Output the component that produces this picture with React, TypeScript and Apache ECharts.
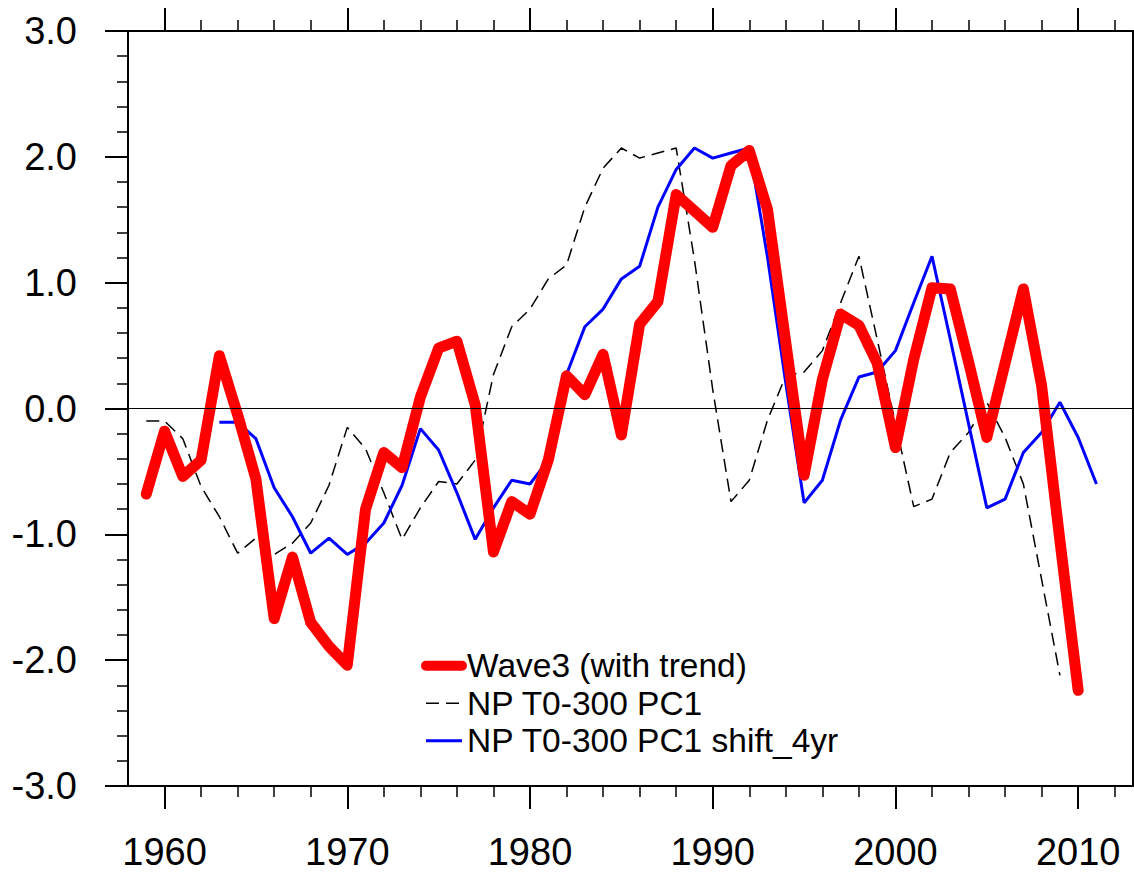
import React, { useEffect, useRef } from "react";
import * as echarts from "echarts";

const wave3Years = [
  1959, 1960, 1961, 1962, 1963, 1964, 1965, 1966, 1967, 1968, 1969, 1970, 1971, 1972, 1973, 1974, 1975,
  1976, 1977, 1978, 1979, 1980, 1981, 1982, 1983, 1984, 1985, 1986, 1987, 1988, 1989, 1990, 1991, 1992,
  1993, 1994, 1995, 1996, 1997, 1998, 1999, 2000, 2001, 2002, 2003, 2004, 2005, 2006, 2007, 2008, 2009, 2010,
];
const wave3Values = [
  -0.68, -0.18, -0.54, -0.41, 0.42, -0.05, -0.56, -1.67, -1.18, -1.7, -1.89, -2.04, -0.8, -0.35, -0.47, 0.09,
  0.48, 0.535, 0.03, -1.14, -0.74, -0.84, -0.41, 0.26, 0.11, 0.43, -0.21, 0.67, 0.85, 1.7, 1.57, 1.44, 1.93,
  2.05, 1.58, 0.52, -0.53, 0.23, 0.75, 0.66, 0.36, -0.31, 0.39, 0.96, 0.95, 0.37, -0.23, 0.36, 0.95, 0.18,
  -1.05, -2.24,
];

const pc1Years = [
  1959, 1960, 1961, 1962, 1963, 1964, 1965, 1966, 1967, 1968, 1969, 1970, 1971, 1972, 1973, 1974, 1975,
  1976, 1977, 1978, 1979, 1980, 1981, 1982, 1983, 1984, 1985, 1986, 1987, 1988, 1989, 1990, 1991, 1992,
  1993, 1994, 1995, 1996, 1997, 1998, 1999, 2000, 2001, 2002, 2003, 2004, 2005, 2006, 2007, 2008, 2009,
];
const pc1Values = [
  -0.1, -0.1, -0.24, -0.62, -0.86, -1.15, -1.03, -1.16, -1.07, -0.91, -0.61, -0.15, -0.32, -0.67, -1.04,
  -0.79, -0.58, -0.6, -0.41, 0.27, 0.65, 0.79, 1.03, 1.14, 1.6, 1.91, 2.07, 1.99, 2.03, 2.07, 1.18, 0.15,
  -0.74, -0.57, -0.09, 0.26, 0.29, 0.46, 0.84, 1.21, 0.55, -0.12, -0.78, -0.72, -0.35, -0.19, 0.05, -0.23,
  -0.6, -1.36, -2.12,
];

const shiftYears = [
  1963, 1964, 1965, 1966, 1967, 1968, 1969, 1970, 1971, 1972, 1973, 1974, 1975, 1976, 1977, 1978, 1979,
  1980, 1981, 1982, 1983, 1984, 1985, 1986, 1987, 1988, 1989, 1990, 1991, 1992, 1993, 1994, 1995, 1996,
  1997, 1998, 1999, 2000, 2001, 2002, 2003, 2004, 2005, 2006, 2007, 2008, 2009, 2010, 2011,
];
const shiftValues = [
  -0.11, -0.11, -0.24, -0.63, -0.86, -1.15, -1.03, -1.16, -1.07, -0.91, -0.61, -0.16, -0.33, -0.67, -1.04,
  -0.79, -0.57, -0.6, -0.41, 0.27, 0.65, 0.79, 1.03, 1.13, 1.6, 1.9, 2.07, 1.99, 2.03, 2.07, 1.2, 0.2,
  -0.75, -0.57, -0.09, 0.25, 0.29, 0.46, 0.84, 1.21, 0.55, -0.12, -0.79, -0.72, -0.35, -0.19, 0.05, -0.23,
  -0.6,
];

const xTickValues = [1960, 1970, 1980, 1990, 2000, 2010];
const yTickValues = [-3, -2, -1, 0, 1, 2, 3];

const seriesNames = ["Wave3 (with trend)", "NP T0-300 PC1", "NP T0-300 PC1 shift_4yr"];

const FONT = "'Liberation Sans', Arial, Helvetica, sans-serif";

const RED_STYLE = { color: "#ff0000", width: 11, cap: "round" as const, join: "round" as const };
const DASH_STYLE = { color: "#000", width: 1.5, type: [13, 7] };
const BLUE_STYLE = { color: "#0000ff", width: 3 };

function pairs(xs: number[], ys: number[]) {
  return xs.map((x, i) => [x, ys[i]]);
}

export default function App() {
  const ref = useRef<HTMLDivElement>(null);

  useEffect(() => {
    document.body.style.margin = "0";
    if (!ref.current) return;
    const chart = echarts.init(ref.current, undefined, { renderer: "svg" });

    const xAxisCommon = {
      type: "value" as const,
      min: 1958,
      max: 2013,
      splitNumber: 5,
      splitLine: { show: false },
      axisLine: { show: true, onZero: false, lineStyle: { color: "#000", width: 2 } },
      axisTick: {
        show: true,
        inside: false,
        length: 23,
        customValues: xTickValues,
        lineStyle: { color: "#000", width: 2 },
      },
      minorTick: { show: true, splitNumber: 5, length: 11, lineStyle: { color: "#000", width: 1.5 } },
      minorSplitLine: { show: false },
    };

    chart.setOption({
      animation: false,
      backgroundColor: "#fff",
      grid: { left: 128, right: 1, top: 31, bottom: 88, containLabel: false, outerBoundsMode: "none" },
      legend: {
        show: true,
        orient: "vertical",
        left: 416,
        top: 643,
        itemWidth: 36,
        itemHeight: 14,
        itemGap: 2,
        itemStyle: { opacity: 0 },
        data: [
          { name: seriesNames[0], itemStyle: { opacity: 0 }, lineStyle: { ...RED_STYLE, width: 10 } },
          { name: seriesNames[1], itemStyle: { opacity: 0 }, lineStyle: DASH_STYLE },
          { name: seriesNames[2], itemStyle: { opacity: 0 }, lineStyle: BLUE_STYLE },
        ],
        textStyle: { fontSize: 33.5, lineHeight: 35.5, color: "#000", fontFamily: FONT },
      },
      xAxis: [
        {
          ...xAxisCommon,
          position: "bottom",
          axisLabel: {
            show: true,
            customValues: xTickValues,
            margin: 47,
            fontSize: 38,
            color: "#000",
            fontFamily: FONT,
            formatter: (v: number) => String(v),
          },
        },
        {
          ...xAxisCommon,
          position: "top",
          axisLabel: { show: false },
        },
      ],
      yAxis: [
        {
          type: "value",
          min: yTickValues[0],
          max: yTickValues[yTickValues.length - 1],
          interval: 1,
          position: "left",
          splitLine: { show: false },
          axisLine: { show: true, onZero: false, lineStyle: { color: "#000", width: 2 } },
          axisTick: { show: true, inside: false, length: 23, lineStyle: { color: "#000", width: 2 } },
          minorTick: { show: true, splitNumber: 5, length: 11, lineStyle: { color: "#000", width: 1.5 } },
          axisLabel: {
            show: true,
            margin: 51,
            fontSize: 38,
            color: "#000",
            fontFamily: FONT,
            formatter: (v: number) => v.toFixed(1),
          },
        },
        {
          type: "value",
          min: yTickValues[0],
          max: yTickValues[yTickValues.length - 1],
          interval: 1,
          position: "right",
          splitLine: { show: false },
          axisLine: { show: true, onZero: false, lineStyle: { color: "#000", width: 2 } },
          axisTick: { show: false },
          axisLabel: { show: false },
        },
      ],
      series: [
        {
          name: seriesNames[1],
          type: "line",
          xAxisIndex: 0,
          yAxisIndex: 0,
          data: pairs(pc1Years, pc1Values),
          showSymbol: false,
          symbol: "none",
          z: 2,
          lineStyle: DASH_STYLE,
          itemStyle: { color: "#000" },
          markLine: {
            silent: true,
            symbol: "none",
            label: { show: false },
            lineStyle: { color: "#000", width: 1, type: "solid" },
            data: [{ yAxis: 0 }],
          },
        },
        {
          name: seriesNames[2],
          type: "line",
          xAxisIndex: 0,
          yAxisIndex: 0,
          data: pairs(shiftYears, shiftValues),
          showSymbol: false,
          symbol: "none",
          z: 3,
          lineStyle: BLUE_STYLE,
          itemStyle: { color: "#0000ff" },
        },
        {
          name: seriesNames[0],
          type: "line",
          xAxisIndex: 0,
          yAxisIndex: 0,
          data: pairs(wave3Years, wave3Values),
          showSymbol: false,
          symbol: "none",
          z: 4,
          lineStyle: RED_STYLE,
          itemStyle: { color: "#ff0000" },
        },
      ],
    });

    return () => {
      chart.dispose();
    };
  }, []);

  return <div ref={ref} style={{ width: 1134, height: 874 }} />;
}
